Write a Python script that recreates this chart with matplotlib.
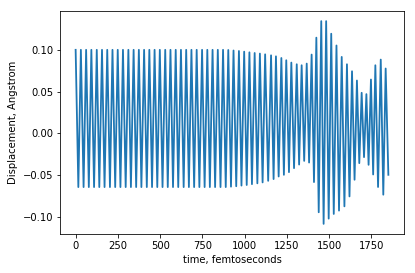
import numpy as np
import matplotlib
matplotlib.use("Agg")
import matplotlib.pyplot as plt

# peak (maximum) of each oscillation
peak_t = [0, 31, 62, 93, 125, 156, 187, 218, 249, 280, 312, 343, 374, 405, 436,
          467, 498, 530, 561, 592, 623, 654, 685, 716, 748, 779, 810, 841, 872,
          903, 934, 966, 997, 1028, 1059, 1090, 1121, 1156, 1185, 1217, 1246,
          1276, 1308, 1337, 1367, 1396, 1424, 1453, 1482, 1512, 1543,
          1574, 1605, 1635, 1664, 1692, 1720, 1747, 1773, 1805, 1834]
peak_v = [0.100] * 29 + [
    0.0998, 0.0992, 0.0986, 0.0978, 0.0970, 0.0962, 0.0955, 0.0946,
    0.0934, 0.0922, 0.0902, 0.0875, 0.0847, 0.0827, 0.0815, 0.0835,
    0.0943, 0.1146, 0.1344, 0.1344, 0.1193, 0.1052, 0.0915, 0.0827,
    0.0743, 0.0632, 0.0485, 0.0469, 0.0644, 0.0815, 0.0883, 0.0776]

# trough (minimum) of each oscillation
trough_t = [16, 47, 78, 109, 140, 171, 203, 234, 265, 296, 327, 358, 389, 421,
            452, 483, 514, 545, 576, 607, 639, 670, 701, 732, 763, 794, 825,
            857, 888, 919, 950, 981, 1012, 1043, 1075, 1106, 1139, 1171, 1201,
            1232, 1262, 1292, 1322, 1352, 1381, 1410, 1438, 1467, 1497, 1527,
            1558, 1590, 1620, 1650, 1678, 1706, 1733, 1760, 1789, 1820, 1850]
trough_v = [-0.0645] * 29 + [
    -0.0640, -0.0635, -0.0627, -0.0620, -0.0610, -0.0600, -0.0589, -0.0570,
    -0.0549, -0.0518, -0.0498, -0.0466, -0.0418, -0.0375, -0.0331, -0.0351,
    -0.0585, -0.0947, -0.1086, -0.1023, -0.0967, -0.0927, -0.0876, -0.0757,
    -0.0557, -0.0358, -0.0286, -0.0378, -0.0494, -0.0644, -0.0736, -0.0498]

t = np.array(peak_t + trough_t, dtype=float)
v = np.array(peak_v + trough_v)
order = np.argsort(t)
t, v = t[order], v[order]

fig = plt.figure(figsize=(415 / 72, 273 / 72), dpi=72)
ax = fig.add_subplot(111)
fig.subplots_adjust(left=60 / 415, right=404 / 415, top=1 - 11 / 273, bottom=1 - 234 / 273)

ax.plot(t, v, color="#1f77b4", linewidth=1.8)
ax.set_xlabel("time, femtoseconds")
ax.set_ylabel("Displacement, Angstrom")

fig.savefig("out.png", dpi=72)
